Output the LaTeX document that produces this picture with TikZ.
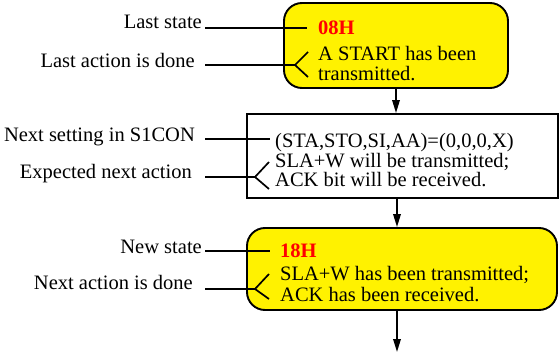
\documentclass[tikz,border=0pt]{standalone}
\usepackage{fontspec}
\setmainfont{Liberation Serif}
\usetikzlibrary{arrows.meta}

\tikzset{
  statebox/.style={draw=black, line width=1.9pt, fill=yellow, rounded corners=18pt, inner sep=0pt},
  setbox/.style={draw=black, line width=1.9pt, fill=white, inner sep=0pt},
  txt/.style={anchor=base west, inner sep=0pt, font=\fontsize{20.5}{20}\selectfont},
  code/.style={txt, text=red, font=\fontsize{20.5}{20}\selectfont\bfseries},
  lab/.style={anchor=base east, inner sep=0pt, font=\fontsize{20.5}{20}\selectfont},
  lead/.style={line width=1.7pt},
  flow/.style={line width=1.7pt, -{Triangle[length=13pt, width=7.5pt]}}
}

\begin{document}
\begin{tikzpicture}[x=1pt, y=-1pt]
  \useasboundingbox (0,0) rectangle (560,353);

  % state / setting boxes
  \node[statebox, minimum width=224pt, minimum height=85pt] (s08) at (396,45.5) {};
  \node[setbox, minimum width=311pt, minimum height=84pt] (set) at (402.5,156) {};
  \node[statebox, minimum width=310pt, minimum height=82pt] (s18) at (402,269) {};

  % box contents
  \node[code] (c08) at (318,35) {08H};
  \node[txt] (t08a) at (318,61) {A START has been};
  \node[txt] (t08b) at (318,81) {transmitted.};

  \node[txt] (ta) at (275,147) {(STA,STO,SI,AA)=(0,0,0,X)};
  \node[txt] (tb) at (275,167) {SLA+W will be transmitted;};
  \node[txt] (tc) at (275,186) {ACK bit will be received.};

  \node[code] (c18) at (280,257) {18H};
  \node[txt] (t18a) at (280,280) {SLA+W has been transmitted;};
  \node[txt] (t18b) at (280,301) {ACK has been received.};

  % side labels
  \node[lab] (l1) at (202,29) {Last state};
  \node[lab] (l2) at (195,67) {Last action is done};
  \node[lab] (l3) at (195,142) {Next setting in S1CON};
  \node[lab] (l4) at (192,178) {Expected next action};
  \node[lab] (l5) at (202,253) {New state};
  \node[lab] (l6) at (193,289) {Next action is done};

  % leader line end points
  \coordinate (p1) at (205,28);   \coordinate (q1) at (307,28);
  \coordinate (p2) at (205,65);   \coordinate (f2) at (295,65);
  \coordinate (u2) at (308,52);   \coordinate (d2) at (308,77);
  \coordinate (p3) at (205,139);  \coordinate (q3) at (270,139);
  \coordinate (p4) at (205,177);  \coordinate (f4) at (255,177);
  \coordinate (u4) at (269,162);  \coordinate (d4) at (269,189);
  \coordinate (p5) at (205,251);  \coordinate (q5) at (270,251);
  \coordinate (p6) at (205,289);  \coordinate (f6) at (255,289);
  \coordinate (u6) at (269,274);  \coordinate (d6) at (269,299);

  % leader lines
  \draw[lead] (p1) -- (q1);
  \draw[lead] (p2) -- (f2) (u2) -- (f2) -- (d2);
  \draw[lead] (p3) -- (q3);
  \draw[lead] (p4) -- (f4) (u4) -- (f4) -- (d4);
  \draw[lead] (p5) -- (q5);
  \draw[lead] (p6) -- (f6) (u6) -- (f6) -- (d6);

  % flow arrows
  \coordinate (out) at (397,352);
  \draw[flow] (s08.south) -- (s08.south |- set.north);
  \draw[flow] ([xshift=1pt]set.south -| s08.south) -- ([xshift=1pt]s08.south |- s18.north);
  \draw[flow] (s18.south -| out) -- (out);
\end{tikzpicture}
\end{document}
